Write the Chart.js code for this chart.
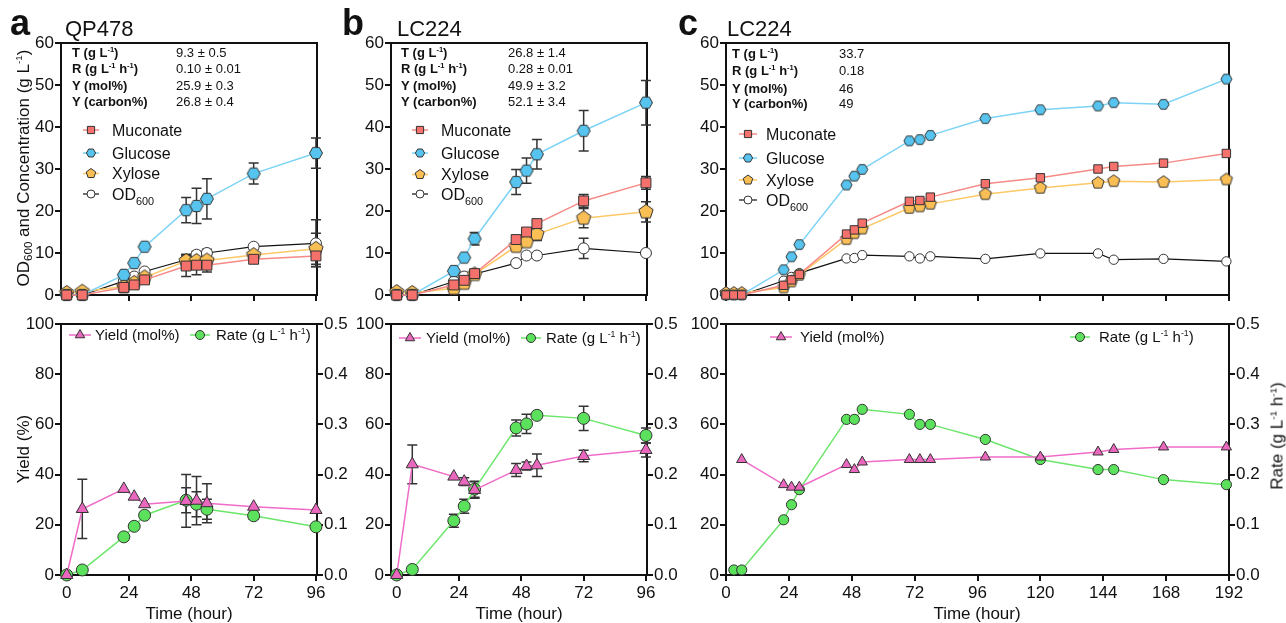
<!DOCTYPE html>
<html>
<head>
<meta charset="utf-8">
<title>Muconate fermentation</title>
<script src="https://cdn.jsdelivr.net/npm/chart.js@4.4.1/dist/chart.umd.min.js"></script>
<style>
  body { margin: 0; background: #fff; }
  #fig { position: relative; width: 1286px; height: 623px; overflow: hidden; font-family: "Liberation Sans", Arial, sans-serif; color: #111; }
  #fig canvas { position: absolute; }
  .txt { position: absolute; white-space: nowrap; line-height: 1; }
  .ttl { position: absolute; white-space: nowrap; line-height: 1; font-size: 17px; transform: translate(-50%, -50%); }
  .ttl.rot { transform: translate(-50%, -50%) rotate(-90deg); }
  sup { font-size: 0.58em; vertical-align: 0.62em; line-height: 0; }
  sub { font-size: 0.68em; vertical-align: -0.3em; line-height: 0; }
</style>
</head>
<body>
<div id="fig"></div>
<script>
// sampling times (hour)
const timeAB = [0, 6, 22, 26, 30, 46, 50, 54, 72, 96];
const timeC = [0, 3, 6, 22, 25, 28, 46, 49, 52, 70, 74, 78, 99, 120, 142, 148, 167, 191];

// tick labels
const xTicksAB = [0, 24, 48, 72, 96];
const xTicksC = [0, 24, 48, 72, 96, 120, 144, 168, 192];
const yTicksConc = [0, 10, 20, 30, 40, 50, 60];
const yTicksYield = [0, 20, 40, 60, 80, 100];
const yTicksRate = [0, 0.1, 0.2, 0.3, 0.4, 0.5];

// panel a, QP478
const aMuconate = [0, 0, 1.8, 2.4, 3.6, 6.9, 7.1, 7.1, 8.5, 9.3];
const aMuconateErr = [0, 0, 0.4, 0.4, 0.5, 2.5, 2.3, 1.6, 0.6, 2.5];
const aGlucose = [0, 0, 4.8, 7.6, 11.5, 20.2, 21.2, 22.9, 28.9, 33.8];
const aGlucoseErr = [0, 0, 0.3, 0.4, 0.5, 3.0, 4.2, 4.8, 2.5, 3.6];
const aXylose = [0.5, 0.8, 2.0, 2.9, 4.2, 8.1, 8.1, 8.2, 9.5, 11.0];
const aXyloseErr = [0, 0, 0.3, 0.4, 0.5, 1.6, 1.5, 1.4, 0.7, 3.7];
const aOD = [0, 0, 3.3, 4.4, 5.6, 8.4, 9.6, 10.0, 11.5, 12.3];
const aODErr = [0, 0, 0.3, 0.3, 0.4, 1.2, 0.8, 0.9, 0.5, 5.6];
const aYield = [0, 26.3, 34.3, 31.2, 28.2, 29.5, 29.6, 28.6, 27.2, 25.9];
const aYieldErr = [0, 11.8, 0, 0, 0, 10.5, 9.6, 7.8, 0, 0];
const aRate = [0, 0.010, 0.076, 0.097, 0.119, 0.149, 0.141, 0.131, 0.118, 0.096];
const aRateErr = [0, 0, 0, 0, 0, 0.025, 0.025, 0.02, 0.007, 0];

// panel b, LC224
const bMuconate = [0, 0, 2.4, 3.5, 5.1, 13.2, 15.0, 17.0, 22.4, 26.7];
const bMuconateErr = [0, 0, 0, 0, 0, 0, 0, 0, 1.5, 1.5];
const bGlucose = [0, 0, 5.7, 8.9, 13.4, 26.9, 29.6, 33.5, 39.1, 45.8];
const bGlucoseErr = [0, 0, 0, 0, 1.5, 3.0, 3.0, 3.5, 4.8, 5.3];
const bXylose = [0.7, 0.5, 1.6, 2.8, 4.9, 11.6, 12.7, 14.5, 18.3, 19.8];
const bXyloseErr = [0, 0, 0, 0, 0, 0, 0, 1.5, 2.3, 2.4];
const bOD = [0, 0, 3.2, 4.4, 5.0, 7.6, 9.4, 9.4, 11.1, 10.0];
const bODErr = [0, 0, 0, 0, 0, 0, 0, 0, 2.4, 0];
const bYield = [0, 44.1, 39.2, 37.2, 33.9, 41.8, 43.4, 43.7, 47.4, 49.8];
const bYieldErr = [0, 7.7, 0, 1.5, 3.3, 2.6, 1.6, 4.5, 2.3, 2.8];
const bRate = [0, 0.011, 0.108, 0.137, 0.171, 0.293, 0.301, 0.318, 0.312, 0.278];
const bRateErr = [0, 0, 0.013, 0.014, 0.016, 0.016, 0.019, 0, 0.024, 0.015];

// panel c, LC224 long run
const cMuconate = [0, 0, 0, 2.3, 3.6, 4.9, 14.5, 15.5, 17.1, 22.3, 22.5, 23.3, 26.5, 27.9, 30.0, 30.6, 31.4, 33.7];
const cGlucose = [0, 0, 0, 6.0, 9.1, 12.0, 26.2, 28.3, 29.9, 36.7, 37.0, 38.0, 42.0, 44.1, 45.0, 45.8, 45.4, 51.4];
const cXylose = [0.5, 0.5, 0.5, 1.8, 3.2, 4.8, 13.3, 14.7, 15.8, 20.7, 21.1, 21.7, 24.0, 25.5, 26.7, 27.1, 26.9, 27.5];
const cOD = [0, 0, 0, 3.4, 4.3, 5.2, 8.7, 8.8, 9.5, 9.2, 8.7, 9.2, 8.6, 9.9, 9.9, 8.4, 8.6, 8.0];
const cYield = [null, null, 46, 36, 35, 35, 44, 42, 45, 46, 46, 46, 47, 47, 49, 50, 51, 51];
const cRate = [null, 0.01, 0.01, 0.11, 0.14, 0.17, 0.31, 0.31, 0.33, 0.32, 0.30, 0.30, 0.27, 0.23, 0.21, 0.21, 0.19, 0.18];

// summary tables
const statLabels = ['T (g L<sup>-1</sup>)', 'R (g L<sup>-1</sup> h<sup>-1</sup>)', 'Y (mol%)', 'Y (carbon%)'];
const aStats = ['9.3 ± 0.5', '0.10 ± 0.01', '25.9 ± 0.3', '26.8 ± 0.4'];
const bStats = ['26.8 ± 1.4', '0.28 ± 0.01', '49.9 ± 3.2', '52.1 ± 3.4'];
const cStats = ['33.7', '0.18', '46', '49'];

const FONT = '"Liberation Sans", Arial, sans-serif';
const fig = document.getElementById('fig');

function polyImg(n, r, fill, rot) {
  const s = Math.ceil(2 * r + 3);
  const c = document.createElement('canvas');
  c.width = c.height = s;
  const g = c.getContext('2d');
  polyPath(g, n, s / 2, s / 2, r, rot);
  g.fillStyle = fill; g.fill();
  g.lineWidth = 1; g.strokeStyle = '#333'; g.stroke();
  return c;
}
function polyPath(g, n, x, y, r, rot) {
  g.beginPath();
  for (let k = 0; k < n; k++) {
    const a = rot + k * 2 * Math.PI / n;
    const px = x + r * Math.cos(a), py = y + r * Math.sin(a);
    if (k) g.lineTo(px, py); else g.moveTo(px, py);
  }
  g.closePath();
}

function drawMarker(g, kind, x, y, r, fill) {
  g.save();
  g.fillStyle = fill; g.strokeStyle = '#333'; g.lineWidth = 1;
  g.beginPath();
  if (kind === 'rect') g.rect(x - r, y - r, 2 * r, 2 * r);
  else if (kind === 'circle') g.arc(x, y, r, 0, 2 * Math.PI);
  else if (kind === 'triangle') polyPath(g, 3, x, y, r, -Math.PI / 2);
  else if (kind === 'hex') polyPath(g, 6, x, y, r, 0);
  else if (kind === 'pent') polyPath(g, 5, x, y, r, -Math.PI / 2);
  g.fill(); g.stroke();
  g.restore();
}

function styles(k) {
  return {
    muc: { line: '#F58A86', fill: '#F4716C', point: 'rect', r: 7 * k },
    glc: { line: '#7DD3F5', fill: '#56C4EE', point: polyImg(6, 6.5 * k, '#56C4EE', 0), r: 6.5 * k },
    xyl: { line: '#FDC866', fill: '#F9BF55', point: polyImg(5, 7.5 * k, '#F9BF55', -Math.PI / 2), r: 7.5 * k },
    od: { line: '#111', fill: '#ffffff', point: 'circle', r: 5.5 * k },
    yld: { line: '#F06CC8', fill: '#EA67BE', point: 'triangle', r: 7 * k },
    rate: { line: '#6BE66B', fill: '#5BE15B', point: 'circle', r: 6 * k }
  };
}
const ST = styles(1);
const STc = styles(0.85);

function series(label, xs, ys, errs, st, yAxisID) {
  return {
    label,
    data: xs.map((x, i) => ({ x, y: ys[i] })),
    errors: errs,
    borderColor: st.line,
    borderWidth: st.line === '#111' ? 1.2 : 1.5,
    backgroundColor: st.fill,
    pointStyle: st.point,
    pointRadius: st.r,
    pointBackgroundColor: st.fill,
    pointBorderColor: '#333',
    pointBorderWidth: 1,
    tension: 0,
    clip: false,
    yAxisID: yAxisID || 'y'
  };
}

// error bars, drawn behind the markers
const errorBars = {
  id: 'errorBars',
  beforeDatasetsDraw(chart) {
    const g = chart.ctx;
    chart.data.datasets.forEach((ds, i) => {
      if (!ds.errors) return;
      const meta = chart.getDatasetMeta(i);
      const xs = chart.scales[meta.xAxisID], ys = chart.scales[meta.yAxisID];
      g.save();
      g.strokeStyle = '#333'; g.lineWidth = 1.5;
      ds.data.forEach((p, j) => {
        const e = ds.errors[j];
        if (!e || p.y == null) return;
        const x = xs.getPixelForValue(p.x);
        const y1 = ys.getPixelForValue(p.y + e), y2 = ys.getPixelForValue(p.y - e);
        g.beginPath();
        g.moveTo(x, y1); g.lineTo(x, y2);
        g.moveTo(x - 5, y1); g.lineTo(x + 5, y1);
        g.moveTo(x - 5, y2); g.lineTo(x + 5, y2);
        g.stroke();
      });
      g.restore();
    });
  }
};

// closed box around the plot area
const frame = {
  id: 'frame',
  beforeDatasetsDraw(chart) {
    const { ctx, chartArea: a } = chart;
    ctx.save();
    ctx.strokeStyle = '#111'; ctx.lineWidth = 2;
    ctx.strokeRect(a.left, a.top, a.right - a.left, a.bottom - a.top);
    ctx.restore();
  }
};

// legend with line + marker and sub/superscripts
const markerLegend = {
  id: 'markerLegend',
  afterDatasetsDraw(chart, args, opts) {
    if (!opts.items) return;
    const g = chart.ctx;
    opts.items.forEach(it => {
      const ds = chart.data.datasets[it.ds];
      const x = it.mx - opts.ox, y = it.y - opts.oy;
      g.save();
      g.strokeStyle = ds.borderColor; g.lineWidth = ds.borderWidth;
      g.beginPath(); g.moveTo(x - it.half, y); g.lineTo(x + it.half, y); g.stroke();
      drawMarker(g, it.kind, x, y, it.r, ds.pointBackgroundColor);
      let tx = it.tx - opts.ox;
      const base = y + opts.size * 0.36;
      g.fillStyle = '#111'; g.textBaseline = 'alphabetic';
      it.text.forEach(([s, mode]) => {
        const fs = mode === 'sub' ? opts.size * 0.68 : mode === 'sup' ? opts.size * 0.58 : opts.size;
        const dy = mode === 'sub' ? opts.size * 0.3 : mode === 'sup' ? -opts.size * 0.4 : 0;
        g.font = fs + 'px ' + FONT;
        g.fillText(s, tx, base + dy);
        tx += g.measureText(s).width;
      });
      g.restore();
    });
  }
};

function axis(pos, min, max, tickVals, size, opts = {}) {
  const horizontal = pos === 'bottom';
  return {
    type: 'linear', position: pos, min, max,
    afterBuildTicks: s => { s.ticks = tickVals.map(v => ({ value: v })); },
    afterFit: s => {
      if (horizontal) { s.height = size; s.paddingLeft = 0; s.paddingRight = 0; }
      else { s.width = size; s.paddingTop = 0; s.paddingBottom = 0; }
    },
    grid: { drawOnChartArea: false, drawTicks: true, tickLength: 6, color: '#111', lineWidth: 2 },
    border: { display: true, color: '#111', width: 2 },
    ticks: {
      display: opts.labels !== false,
      font: { family: FONT, size: 17 },
      color: '#111',
      padding: opts.pad ?? 1,
      callback: opts.fmt || (v => v)
    }
  };
}

function panel(rect, area, datasets, kind, xr, legendItems, legendSize) {
  const cv = document.createElement('canvas');
  cv.width = rect.w; cv.height = rect.h;
  cv.style.left = rect.l + 'px'; cv.style.top = rect.t + 'px';
  cv.style.width = rect.w + 'px'; cv.style.height = rect.h + 'px';
  fig.appendChild(cv);
  const padL = area.l - rect.l, padT = area.t - rect.t;
  const padR = rect.l + rect.w - area.r, padB = rect.t + rect.h - area.b;
  const scales = {};
  if (kind === 'top') {
    scales.x = axis('bottom', xr.min, xr.max, xr.ticks, padB, { labels: false });
    scales.y = axis('left', 0, 60, yTicksConc, padL);
  } else {
    scales.x = axis('bottom', xr.min, xr.max, xr.ticks, padB, { pad: 2 });
    scales.y = axis('left', 0, 100, yTicksYield, padL);
    scales.y2 = axis('right', 0, 0.5, yTicksRate, padR, { fmt: v => v.toFixed(1) });
  }
  new Chart(cv, {
    type: 'line',
    data: { datasets },
    options: {
      responsive: false,
      animation: false,
      events: [],
      devicePixelRatio: 1,
      layout: { padding: { left: 0, top: padT, right: kind === 'top' ? padR : 0, bottom: 0 } },
      scales,
      plugins: {
        legend: { display: false },
        tooltip: { enabled: false },
        markerLegend: { items: legendItems, ox: rect.l, oy: rect.t, size: legendSize }
      }
    },
    plugins: [frame, errorBars, markerLegend]
  });
}

const xrAB = { min: -2.2, max: 96.4, ticks: xTicksAB };
const xrC = { min: 0, max: 192, ticks: xTicksC };

function topLegend(mx, tx, ys, half) {
  return [
    { ds: 0, kind: 'rect', r: 3.6, mx, y: ys[0], half, tx, text: [['Muconate']] },
    { ds: 1, kind: 'hex', r: 4.6, mx, y: ys[1], half, tx, text: [['Glucose']] },
    { ds: 2, kind: 'pent', r: 5, mx, y: ys[2], half, tx, text: [['Xylose']] },
    { ds: 3, kind: 'circle', r: 4, mx, y: ys[3], half, tx, text: [['OD'], ['600', 'sub']] }
  ];
}
function botLegend(m1, t1, m2, t2, y) {
  return [
    { ds: 0, kind: 'triangle', r: 5.5, mx: m1, y, half: 11, tx: t1, text: [['Yield (mol%)']] },
    { ds: 1, kind: 'circle', r: 4.5, mx: m2, y, half: 10, tx: t2,
      text: [['Rate (g L'], ['-1', 'sup'], [' h'], ['-1', 'sup'], [')']] }
  ];
}

function topSets(t, muc, mucE, glc, glcE, xyl, xylE, od, odE, st) {
  return [
    series('Muconate', t, muc, mucE, st.muc),
    series('Glucose', t, glc, glcE, st.glc),
    series('Xylose', t, xyl, xylE, st.xyl),
    series('OD600', t, od, odE, st.od)
  ];
}
function botSets(t, yld, yldE, rate, rateE, st) {
  return [
    series('Yield (mol%)', t, yld, yldE, st.yld, 'y'),
    series('Rate', t, rate, rateE, st.rate, 'y2')
  ];
}

// panel a
panel({ l: 0, t: 30, w: 340, h: 276 }, { l: 61, t: 43, r: 317, b: 295 },
  topSets(timeAB, aMuconate, aMuconateErr, aGlucose, aGlucoseErr, aXylose, aXyloseErr, aOD, aODErr, ST),
  'top', xrAB, topLegend(91, 112, [130, 153, 173.5, 194], 8), 16);
panel({ l: 0, t: 305, w: 350, h: 318 }, { l: 61, t: 324, r: 317, b: 575 },
  botSets(timeAB, aYield, aYieldErr, aRate, aRateErr, ST),
  'bottom', xrAB, botLegend(80, 95, 200, 216, 335), 15);

// panel b
panel({ l: 340, t: 30, w: 330, h: 276 }, { l: 391, t: 43, r: 647, b: 295 },
  topSets(timeAB, bMuconate, bMuconateErr, bGlucose, bGlucoseErr, bXylose, bXyloseErr, bOD, bODErr, ST),
  'top', xrAB, topLegend(420, 441, [130, 153, 174.5, 194], 8), 16);
panel({ l: 340, t: 305, w: 345, h: 318 }, { l: 391, t: 324, r: 647, b: 575 },
  botSets(timeAB, bYield, bYieldErr, bRate, bRateErr, ST),
  'bottom', xrAB, botLegend(410, 426, 531, 546, 338), 15);

// panel c
panel({ l: 680, t: 30, w: 580, h: 276 }, { l: 726, t: 43, r: 1229, b: 295 },
  topSets(timeC, cMuconate, null, cGlucose, null, cXylose, null, cOD, null, STc),
  'top', xrC, topLegend(748, 766, [134, 158, 180, 200], 9), 16);
panel({ l: 680, t: 305, w: 606, h: 318 }, { l: 726, t: 324, r: 1229, b: 575 },
  botSets(timeC, cYield, null, cRate, null, STc),
  'bottom', xrC, botLegend(781, 800, 1080, 1099, 337), 15);

// html text: panel letters, strain names, summary tables, axis titles
function label(html, x, base, size, bold) {
  const d = document.createElement('div');
  d.className = 'txt';
  d.innerHTML = html;
  d.style.left = x + 'px';
  d.style.top = (base - 0.8465 * size) + 'px';
  d.style.fontSize = size + 'px';
  if (bold) d.style.fontWeight = 'bold';
  fig.appendChild(d);
}
function title(html, cx, cy, rot) {
  const d = document.createElement('div');
  d.className = rot ? 'ttl rot' : 'ttl';
  d.innerHTML = html;
  d.style.left = cx + 'px';
  d.style.top = cy + 'px';
  fig.appendChild(d);
}

label('a', 10, 35, 36, true);
label('b', 342, 35, 36, true);
label('c', 678, 35, 36, true);
label('QP478', 65, 37, 22);
label('LC224', 397, 37, 22);
label('LC224', 727, 37, 22);

function statTable(lx, vx, bases, vals) {
  statLabels.forEach((s, i) => {
    label(s, lx, bases[i], 13, true);
    label(vals[i], vx, bases[i], 13);
  });
}
statTable(72, 176, [57.5, 73, 90, 106.5], aStats);
statTable(401, 508, [57.5, 73, 90, 106.5], bStats);
statTable(732, 839, [58, 75, 93, 108], cStats);

title('OD<sub>600</sub> and Concentration (g L<sup>-1</sup>)', 23, 168, true);
title('Yield (%)', 23, 449, true);
title('Rate (g L<sup>-1</sup> h<sup>-1</sup>)', 1277, 436, true);
title('Time (hour)', 189, 613);
title('Time (hour)', 519, 613);
title('Time (hour)', 977, 613);
</script>
</body>
</html>
